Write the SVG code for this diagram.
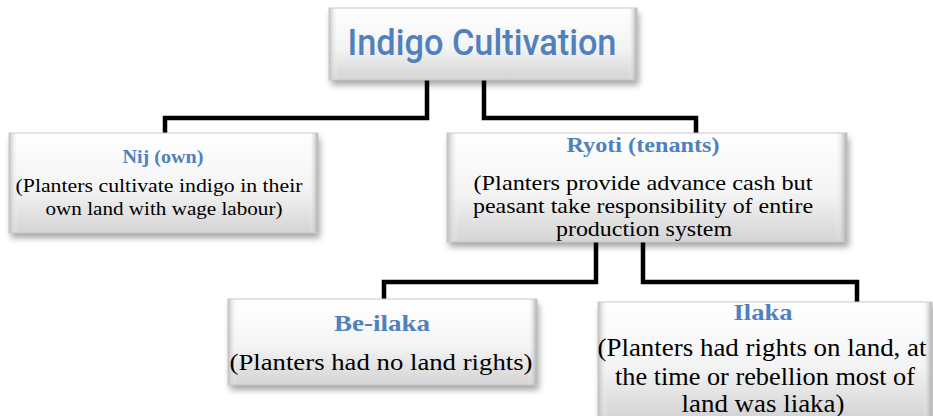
<svg xmlns="http://www.w3.org/2000/svg" width="933" height="416" viewBox="0 0 933 416">
<defs>
<linearGradient id="fill" x1="0" y1="0" x2="0" y2="1">
<stop offset="0" stop-color="#ffffff"/>
<stop offset="0.55" stop-color="#f4f4f4"/>
<stop offset="1" stop-color="#d4d4d4"/>
</linearGradient>
<linearGradient id="edge" x1="0" y1="0" x2="1" y2="0">
<stop offset="0" stop-color="#bdbdbd"/>
<stop offset="0.03" stop-color="#ffffff" stop-opacity="0"/>
<stop offset="0.97" stop-color="#ffffff" stop-opacity="0"/>
<stop offset="1" stop-color="#a9a9a9"/>
</linearGradient>
<filter id="sh" x="-10%" y="-20%" width="120%" height="150%">
<feDropShadow dx="2" dy="5" stdDeviation="3" flood-color="#000" flood-opacity="0.35"/>
</filter>
</defs>
<style>
.box{fill:url(#fill);filter:url(#sh)}
.bev{fill:url(#edge);stroke:#c9c9c9;stroke-width:1}
.conn{fill:none;stroke:#000;stroke-width:4.5;stroke-linejoin:miter}
.ttl{font-family:"Liberation Serif","DejaVu Serif",serif;font-weight:bold;fill:#4f81bd;text-anchor:middle}
.body{font-family:"Liberation Serif","DejaVu Serif",serif;fill:#000;text-anchor:middle}
.main{font-family:Roboto,"Liberation Sans",sans-serif;font-weight:500;fill:#4f81bd;text-anchor:middle}
</style>
<rect width="933" height="416" fill="#fff"/>
<g id="connectors">
<path class="conn" d="M427,80 V118 H165 V133"/>
<path class="conn" d="M484,80 V118 H696 V133"/>
<path class="conn" d="M596,242 V282 H384 V299"/>
<path class="conn" d="M643,242 V282 H857 V302"/>
</g>
<g id="node-indigo">
<rect class="box" x="329" y="8" width="308" height="72"/>
<rect class="bev" x="329" y="8" width="308" height="72"/>
<text class="main" x="482" y="55" font-size="36" textLength="269" lengthAdjust="spacingAndGlyphs">Indigo Cultivation</text>
</g>
<g id="node-nij">
<rect class="box" x="9" y="133" width="309" height="100"/>
<rect class="bev" x="9" y="133" width="309" height="100"/>
<text class="ttl" x="163" y="163" font-size="18" textLength="81" lengthAdjust="spacingAndGlyphs">Nij (own)</text>
<text class="body" x="159" y="192" font-size="19" textLength="287" lengthAdjust="spacingAndGlyphs">(Planters cultivate indigo in their</text>
<text class="body" x="164" y="215" font-size="19" textLength="237" lengthAdjust="spacingAndGlyphs">own land with wage labour)</text>
</g>
<g id="node-ryoti">
<rect class="box" x="447" y="133" width="400" height="109"/>
<rect class="bev" x="447" y="133" width="400" height="109"/>
<text class="ttl" x="643" y="152" font-size="21" textLength="153" lengthAdjust="spacingAndGlyphs">Ryoti (tenants)</text>
<text class="body" x="643" y="190" font-size="22" textLength="339" lengthAdjust="spacingAndGlyphs">(Planters provide advance cash but</text>
<text class="body" x="643" y="213" font-size="22" textLength="340" lengthAdjust="spacingAndGlyphs">peasant take responsibility of entire</text>
<text class="body" x="644" y="236" font-size="22" textLength="176" lengthAdjust="spacingAndGlyphs">production system</text>
</g>
<g id="node-beilaka">
<rect class="box" x="228" y="299" width="309" height="86"/>
<rect class="bev" x="228" y="299" width="309" height="86"/>
<text class="ttl" x="382" y="331" font-size="24" textLength="96" lengthAdjust="spacingAndGlyphs">Be-ilaka</text>
<text class="body" x="381" y="370" font-size="23" textLength="303" lengthAdjust="spacingAndGlyphs">(Planters had no land rights)</text>
</g>
<g id="node-ilaka">
<rect class="box" x="598" y="302" width="334" height="116"/>
<rect class="bev" x="598" y="302" width="334" height="116"/>
<text class="ttl" x="763" y="320" font-size="24" textLength="59" lengthAdjust="spacingAndGlyphs">Ilaka</text>
<text class="body" x="762" y="356" font-size="25" textLength="329" lengthAdjust="spacingAndGlyphs">(Planters had rights on land, at</text>
<text class="body" x="765" y="385" font-size="25" textLength="300" lengthAdjust="spacingAndGlyphs">the time or rebellion most of</text>
<text class="body" x="763" y="412" font-size="25" textLength="163" lengthAdjust="spacingAndGlyphs">land was liaka)</text>
</g>
</svg>
